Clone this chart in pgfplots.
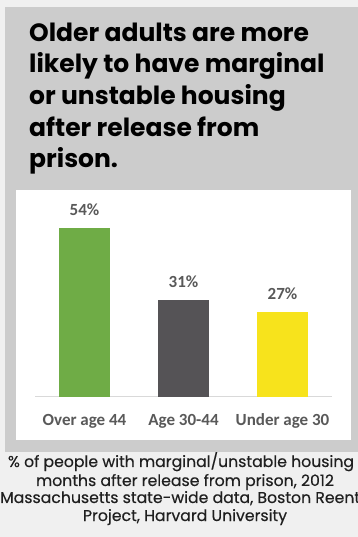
\documentclass[border=0pt]{standalone}
\usepackage{fontspec}
\usepackage{pgfplots}
\pgfplotsset{compat=1.18}
\setmainfont{Poppins}
\newfontfamily\carlito{Carlito}
\newfontfamily\capfont[FakeBold=0.35]{Poppins}
\definecolor{outerbg}{HTML}{F0F0F0}
\definecolor{boxgray}{HTML}{CCCCCC}
\definecolor{labgray}{HTML}{595959}
\definecolor{basegray}{HTML}{D9D9D9}
\definecolor{cgreen}{HTML}{6FAC46}
\definecolor{cdark}{HTML}{555356}
\definecolor{cyellow}{HTML}{F7E31C}
\begin{document}
\begin{tikzpicture}[x=1pt,y=1pt]
\useasboundingbox (0,0) rectangle (358,537);
\fill[outerbg] (0,0) rectangle (358,537);
\fill[boxgray] (5,85) rectangle (358,530);
\fill[white] (16,97) rectangle (351,347);
% title
\begin{scope}[every node/.style={anchor=base west, inner sep=0pt, font=\fontsize{25}{30}\selectfont\bfseries, text=black}]
\node at (29,495) {Older adults are more};
\node at (29,464) {likely to have marginal};
\node at (29,432) {or unstable housing};
\node at (29,400) {after release from};
\node at (29,369) {prison.};
\end{scope}
\begin{axis}[
  at={(35pt,140pt)}, anchor=south west,
  scale only axis, width=297pt, height=187.8pt,
  xmin=-0.5, xmax=2.5, ymin=0, ymax=60,
  axis x line=bottom, axis y line=none,
  axis line style={basegray, line width=1pt, -},
  xtick={0,1,2}, xticklabels={Over age 44,Age 30-44,Under age 30},
  major tick length=0pt, ytick=\empty,
  /pgf/number format/assume math mode=true,
  xticklabel style={anchor=base, yshift=-28.7pt, font=\carlito\bfseries\fontsize{17}{20}\selectfont, text=labgray},
  ybar, bar width=51.5pt, bar shift=0pt,
  nodes near coords={\pgfmathprintnumber{\pgfplotspointmeta}\%},
  every node near coord/.append style={anchor=base, yshift=12.6pt, font=\carlito\bfseries\fontsize{17}{20}\selectfont, text=labgray, inner sep=0pt},
  clip=false,
]
\addplot[fill=cgreen, draw=none] coordinates {(0,54)};
\addplot[fill=cdark, draw=none] coordinates {(1,31)};
\addplot[fill=cyellow, draw=none] coordinates {(2,27)};
\end{axis}
% caption
\begin{scope}[every node/.style={anchor=base, inner sep=0pt, font=\capfont\fontsize{15.7}{19}\selectfont, text=black!88}]
\node at (181,70) {\% of people with marginal/unstable housing};
\node at (185,51) {months after release from prison, 2012};
\node[anchor=base west] at (0,34) {Massachusetts state-wide data, Boston Reentry};
\node at (185,16) {Project, Harvard University};
\end{scope}
\end{tikzpicture}
\end{document}
